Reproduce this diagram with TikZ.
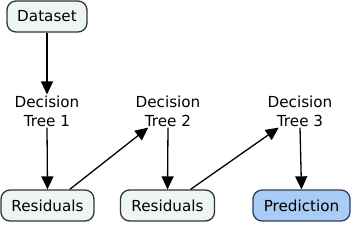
\documentclass[tikz,border=0pt]{standalone}
\usepackage{fontspec}
\setmainfont{DejaVu Sans}
\usetikzlibrary{arrows.meta}
\definecolor{boxfill}{HTML}{EEF5F5}
\definecolor{boxline}{HTML}{333333}
\definecolor{predfill}{HTML}{A8CCF5}
\definecolor{predline}{HTML}{2E3E58}
\tikzset{
  databox/.style={draw=boxline, fill=boxfill, line width=1.3pt, rounded corners=9pt,
    minimum height=31pt, inner sep=0pt, font=\fontsize{15.2}{19}\selectfont},
  predbox/.style={databox, draw=predline, fill=predfill},
  treelabel/.style={align=center, inner sep=1pt, font=\fontsize{15.2}{19}\selectfont},
  flow/.style={-{Triangle[length=13pt,width=12pt]}, line width=1.3pt, black}
}
\begin{document}
\begin{tikzpicture}[x=1pt,y=-1pt]
\useasboundingbox (0,0) rectangle (352,225);
\node[databox, minimum width=80pt] (ds) at (47,16.5) {Dataset};
\node[treelabel] (t1) at (47,111) {Decision\\Tree 1};
\node[treelabel] (t2) at (168,111) {Decision\\Tree 2};
\node[treelabel] (t3) at (300,111) {Decision\\Tree 3};
\node[databox, minimum width=93pt] (r1) at (47.5,205.5) {Residuals};
\node[databox, minimum width=94pt] (r2) at (167.5,205.5) {Residuals};
\node[predbox, minimum width=97pt] (p) at (301.5,205.5) {Prediction};
\draw[flow] (ds.south) -- (t1.north);
\draw[flow] (t1.south) -- (r1.north);
\draw[flow] (r1.36) -- (t2.220);
\draw[flow] (t2.south) -- (r2.north);
\draw[flow] (r2.35) -- (t3.218);
\draw[flow] (t3.south) -- (p.north);
\end{tikzpicture}
\end{document}
